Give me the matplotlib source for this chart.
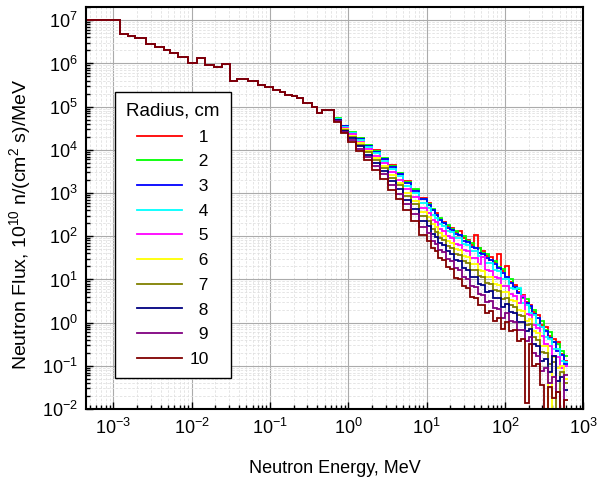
import numpy as np
import matplotlib.pyplot as plt
from matplotlib.lines import Line2D
from matplotlib.ticker import FixedLocator, LogLocator, NullFormatter

plt.rcParams['font.family'] = ['Liberation Sans', 'DejaVu Sans']
plt.rcParams['mathtext.fontset'] = 'custom'
plt.rcParams['mathtext.rm'] = 'Liberation Sans'
plt.rcParams['mathtext.it'] = 'Liberation Sans:italic'
plt.rcParams['mathtext.bf'] = 'Liberation Sans:bold'

# --- low energy part: identical for all radii (bin edges in MeV, log10 of flux)
low_edges = [1e-4, 1.2e-3, 1.55e-3, 1.9e-3, 2.6e-3, 3.4e-3, 4.4e-3, 5.3e-3, 6.7e-3,
             8.9e-3, 1.17e-2, 1.5e-2, 1.9e-2, 2.45e-2, 3.1e-2, 3.8e-2, 5.3e-2, 7.1e-2,
             8.7e-2, 0.11, 0.135, 0.156, 0.19, 0.22, 0.26, 0.345, 0.40, 0.46, 0.65]
low_lgflux = [7.016, 6.69, 6.63, 6.58, 6.46, 6.38, 6.32, 6.245, 6.15, 6.0, 6.115, 5.96,
              5.92, 5.98, 5.59, 5.65, 5.6, 5.5, 5.46, 5.38, 5.345, 5.28, 5.245, 5.19,
              5.09, 5.0, 4.85, 4.92]

# --- high energy part: curves split by radius
high_edges = [0.65, 0.8, 1.0, 1.25, 1.6, 2.0, 2.5, 3.2, 4.0, 5.0, 6.3, 8.0, 10,
              11.2, 12.6, 14.1, 15.8, 17.8, 20, 22.4, 25.1, 28.2, 31.6, 35.5, 39.8,
              44.7, 50.1, 56.2, 63.1, 70.8, 79.4, 89.1, 100, 112, 126, 141, 158, 178,
              200, 224, 251, 282, 316, 355, 398, 447, 501, 562, 631]

r1 = [4.72, 4.56, 4.40, 4.28, 4.10, 3.99, 3.80, 3.64, 3.45, 3.27, 3.08, 2.89,
      2.76, 2.60, 2.53, 2.41, 2.34, 2.24, 2.19, 2.10, 2.12, 1.96, 1.92, 1.80,
      2.02, 1.74, 1.66, 1.55, 1.52, 1.40, 1.60, 1.20, 1.32, 0.95, 0.88, 0.72,
      0.64, 0.48, 0.42, 0.25, 0.18, -0.05, -0.10, -0.30, -0.38, -0.45, -0.72, -0.88]
r2 = [4.73, 4.56, 4.41, 4.27, 4.11, 3.97, 3.81, 3.62, 3.46, 3.25, 3.09, 2.87,
      2.75, 2.63, 2.50, 2.43, 2.31, 2.27, 2.16, 2.13, 2.03, 2.00, 1.88, 1.85,
      1.74, 1.73, 1.62, 1.60, 1.46, 1.43, 1.30, 1.25, 1.05, 1.00, 0.80, 0.78,
      0.58, 0.55, 0.35, 0.30, 0.10, 0.05, -0.18, -0.22, -0.45, -0.50, -0.65, -0.78]
r3 = [4.72, 4.55, 4.39, 4.26, 4.09, 3.96, 3.79, 3.61, 3.43, 3.24, 3.05, 2.86,
      2.72, 2.60, 2.49, 2.38, 2.30, 2.20, 2.15, 2.05, 2.02, 1.90, 1.86, 1.76,
      1.72, 1.62, 1.60, 1.50, 1.45, 1.35, 1.27, 1.15, 1.05, 0.92, 0.82, 0.68,
      0.60, 0.45, 0.38, 0.20, 0.10, -0.10, -0.20, -0.35, -0.45, -0.65, -0.75, -0.95]
r4 = [4.71, 4.53, 4.38, 4.23, 4.07, 3.92, 3.75, 3.55, 3.39, 3.17, 3.00, 2.77,
      2.66, 2.50, 2.43, 2.29, 2.24, 2.12, 2.09, 1.97, 1.95, 1.82, 1.80, 1.66,
      1.66, 1.54, 1.52, 1.38, 1.38, 1.22, 1.20, 1.02, 1.00, 0.80, 0.78, 0.80,
      0.45, 0.42, 0.22, 0.18, -0.05, -0.10, -0.32, -0.38, -0.60, -0.62, -0.88, -0.90]
r5 = [4.70, 4.51, 4.36, 4.19, 4.02, 3.86, 3.69, 3.48, 3.31, 3.09, 2.91, 2.66,
      2.55, 2.38, 2.32, 2.18, 2.12, 2.00, 1.97, 1.83, 1.80, 1.68, 1.65, 1.50,
      1.50, 1.36, 1.52, 1.22, 1.20, 1.05, 1.03, 0.85, 0.85, 0.66, 0.62, 0.45,
      0.62, 0.20, 0.18, -0.05, -0.12, -0.30, -0.50, -0.55, -0.78, -0.80, -1.05, -1.00]
r6 = [4.69, 4.49, 4.33, 4.15, 3.98, 3.81, 3.63, 3.42, 3.24, 3.01, 2.82, 2.56,
      2.44, 2.28, 2.21, 2.07, 2.01, 1.88, 1.84, 1.71, 1.68, 1.54, 1.51, 1.36,
      1.35, 1.22, 1.20, 1.06, 1.05, 0.90, 0.88, 0.70, 0.72, 0.52, 0.50, 0.30,
      0.28, 0.05, 0.08, -0.20, -0.25, -0.55, -0.55, -2.50, -0.80, -1.05, -1.00, -1.30]
r7 = [4.69, 4.47, 4.30, 4.12, 3.94, 3.76, 3.58, 3.36, 3.18, 2.94, 2.74, 2.47,
      2.35, 2.18, 2.11, 1.97, 1.92, 1.78, 1.74, 1.59, 1.57, 1.42, 1.38, 1.22,
      1.22, 1.07, 1.06, 0.92, 0.90, 0.76, 0.74, 0.55, 0.58, 0.40, 0.36, 0.18,
      0.15, -0.05, -0.02, -0.32, -0.40, -0.68, -0.70, -0.95, -0.92, -2.50, -1.15, -1.40]
r8 = [4.68, 4.44, 4.27, 4.08, 3.89, 3.70, 3.51, 3.28, 3.09, 2.85, 2.64, 2.36,
      2.23, 2.06, 1.98, 1.84, 1.80, 1.65, 1.60, 1.45, 1.42, 1.27, 1.22, 1.06,
      1.05, 0.90, 0.88, 0.72, 0.73, 0.57, 0.56, 0.36, 0.44, 0.25, 0.22, 0.02,
      0.02, -0.20, -0.15, -0.50, -0.55, -0.88, -0.85, -1.15, -0.78, -1.35, -1.25, -1.55]
r9 = [4.66, 4.41, 4.23, 4.03, 3.83, 3.63, 3.43, 3.18, 2.99, 2.74, 2.51, 2.21,
      2.07, 1.90, 1.82, 1.68, 1.63, 1.48, 1.43, 1.26, 1.22, 1.06, 1.02, 0.84,
      0.82, 0.66, 0.64, 0.48, 0.50, 0.33, 0.32, 0.12, 0.22, 0.04, 0.02, -0.18,
      -0.18, -0.42, -0.32, -0.70, -0.78, -1.12, -1.05, -1.40, -1.25, -1.60, -2.50, -1.20]
r10 = [4.65, 4.38, 4.19, 3.97, 3.76, 3.54, 3.33, 3.07, 2.87, 2.61, 2.36, 2.04,
       1.90, 1.73, 1.65, 1.49, 1.45, 1.28, 1.24, 1.04, 1.02, 0.84, 0.80, 0.60,
       0.58, 0.40, 0.40, 0.22, 0.28, 0.05, 0.10, -0.15, 0.02, -0.20, -0.18, -0.42,
       -0.38, -1.85, -0.50, -1.00, -0.95, -1.45, -2.50, -1.50, -1.75, -1.60, -2.50, -1.80]

radii = ['1', '2', '3', '4', '5', '6', '7', '8', '9', '10']
high_parts = [r1, r2, r3, r4, r5, r6, r7, r8, r9, r10]
colors = ['#ff0000', '#00ff00', '#0000ff', '#00ffff', '#ff00ff',
          '#ffff00', '#808000', '#000080', '#800080', '#800000']

x_decades = [1e-3, 1e-2, 1e-1, 1e0, 1e1, 1e2, 1e3]
y_decades = [1e-2, 1e-1, 1e0, 1e1, 1e2, 1e3, 1e4, 1e5, 1e6, 1e7]

fig = plt.figure(figsize=(6.07, 4.83), dpi=100)
ax = fig.add_axes([0.142, 0.153, 0.819, 0.832])

edges = low_edges + high_edges[1:]
handles = []
for lab, part, col in zip(radii, high_parts, colors):
    flux = 10.0 ** np.array(low_lgflux + part)
    ax.stairs(flux, edges, baseline=None, color=col, lw=1.3)
    # two leading spaces = one digit width, so the numbers line up on the right
    handles.append(Line2D([], [], color=col, lw=1.3,
                          label=lab if len(lab) == 2 else '  ' + lab))

ax.set_xscale('log')
ax.set_yscale('log')
ax.set_xlim(4.5e-4, 1e3)
ax.set_ylim(1e-2, 2e7)

ax.xaxis.set_major_locator(FixedLocator(x_decades))
ax.yaxis.set_major_locator(FixedLocator(y_decades))
for axis in (ax.xaxis, ax.yaxis):
    axis.set_minor_locator(LogLocator(base=10, subs=np.arange(2, 10), numticks=20))
    axis.set_minor_formatter(NullFormatter())

ax.grid(which='major', color='#ababab', lw=0.8)
ax.grid(which='minor', color='#e0e0e0', lw=0.6, ls=(0, (3, 2)))
ax.set_axisbelow(True)

ax.tick_params(which='both', direction='in', top=False, right=False,
               labelsize=13, width=1.0)
ax.tick_params(which='major', length=5, pad=6)
ax.tick_params(which='minor', length=3)
for sp in ax.spines.values():
    sp.set_linewidth(1.5)

ax.set_xlabel('Neutron Energy, MeV', fontsize=13, labelpad=16)
ax.set_ylabel('Neutron Flux, 10$^{10}$ n/(cm$^2$ s)/MeV', fontsize=14)
ax.yaxis.set_label_coords(-0.108, 0.46)

leg = ax.legend(handles=handles, title='Radius, cm', loc='upper left',
                bbox_to_anchor=(0.058, 0.79), borderaxespad=0,
                fontsize=12.5, title_fontsize=13.5,
                handlelength=2.6, handletextpad=0.4, labelspacing=0.55,
                borderpad=0.65, fancybox=False, framealpha=1, edgecolor='black')
leg.get_frame().set_linewidth(1.0)

fig.savefig('out.png', dpi=100)
